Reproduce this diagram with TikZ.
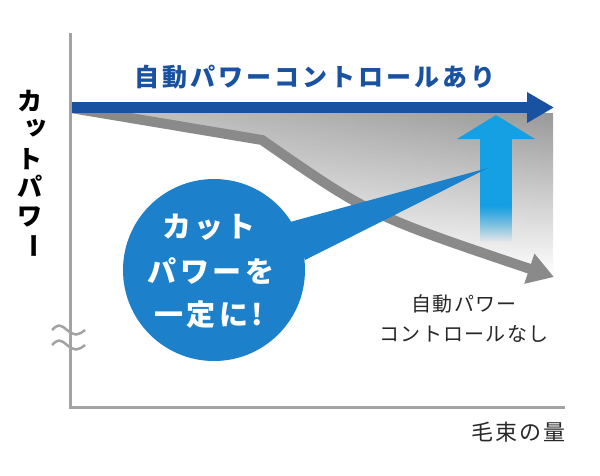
\documentclass[tikz,border=0pt]{standalone}
\usepackage{fontspec}
\usetikzlibrary{arrows.meta,fadings}
\newfontfamily\jp{Noto Sans CJK JP}
\definecolor{axisgray}{RGB}{163,163,163}
\definecolor{darkblue}{RGB}{24,82,160}
\definecolor{bandgray}{RGB}{138,138,138}
\definecolor{lightblue}{RGB}{22,160,228}
\definecolor{circleblue}{RGB}{28,128,202}
\definecolor{shadetop}{RGB}{150,150,150}
\definecolor{textdark}{RGB}{40,40,40}
\begin{document}
\begin{tikzpicture}[x=1pt,y=-1pt,
  axis/.style={axisgray,line width=3pt},
  ylab/.style={font=\jp\bfseries\fontsize{25}{25}\selectfont,text=black,inner sep=0pt},
  circtext/.style={font=\jp\bfseries\fontsize{29}{29}\selectfont\addfontfeatures{LetterSpace=12},text=white,inner sep=0pt},
  notetext/.style={font=\jp\fontsize{20}{20}\selectfont\addfontfeatures{LetterSpace=6},text=textdark,inner sep=0pt}]
\useasboundingbox (0,0) rectangle (600,475);
% shaded region
\shade[top color=shadetop,bottom color=white]
  (72,108) -- (262,140) .. controls (370,215) .. (553,277) -- (553,113) -- (72,113) -- cycle;
\fill[white,fill opacity=0.45,path fading=east]
  (72,108) -- (262,140) .. controls (370,215) .. (553,277) -- (553,113) -- (72,113) -- cycle;
% gray arrow (without control)
\coordinate (g0) at (71,108);
\coordinate (gb) at (262,140);
\coordinate (g1) at (554,277);
\draw[bandgray,line width=10pt,-{Triangle[length=26pt,width=30pt]}]
  (g0) -- (gb) .. controls (370,215) .. (g1);
% light blue up arrow
\fill[lightblue] (457,139) -- (496,115) -- (535,139) -- cycle;
\fill[lightblue] (480,138) rectangle (512,207);
\fill[lightblue,path fading=south] (480,206) rectangle (512,242);
% dark blue arrow
\coordinate (b0) at (72,107.5);
\coordinate (b1) at (554,107.5);
\draw[darkblue,line width=11pt,-{Triangle[length=27pt,width=29pt]}] (b0) -- (b1);
\node[font=\jp\bfseries\fontsize{25}{25}\selectfont\addfontfeatures{LetterSpace=12},text=darkblue,inner sep=0pt] (title) at (315,77) {自動パワーコントロールあり};
% callout
\fill[circleblue] (214,270) circle (91);
\fill[circleblue] (290,222) -- (488,168) -- (305,260) -- cycle;
\node[circtext] (c1) at (209,227) {カット};
\node[circtext] (c2) at (211,271) {パワーを};
\node[circtext] (c3) at (209,315) {一定に!};
% note
\node[notetext] (n1) at (464,304) {自動パワー};
\node[notetext] (n2) at (464,334) {コントロールなし};
% axes
\draw[axis] (70,33) -- (70,407) -- (565,407);
\draw[axisgray,line width=2.5pt] (52,330) sin (59,325.5) cos (67,330) sin (76,334.5) cos (85,330);
\draw[axisgray,line width=2.5pt] (52,345) sin (59,340.5) cos (67,345) sin (76,349.5) cos (85,345);
\node[font=\jp\fontsize{22}{22}\selectfont\addfontfeatures{LetterSpace=10},text=textdark,inner sep=0pt,anchor=east] (xlab) at (566,432) {毛束の量};
% y label
\node[ylab] (y1) at (30,101) {カ};
\node[ylab,font=\jp\bfseries\fontsize{25}{25}\selectfont] (y2) at (36,128) {ッ};
\node[ylab] (y3) at (30,159) {ト};
\node[ylab] (y4) at (30,186) {パ};
\node[ylab] (y5) at (30,217) {ワ};
\node[ylab,rotate=-90] (y6) at (30,246) {ー};
\end{tikzpicture}
\end{document}
